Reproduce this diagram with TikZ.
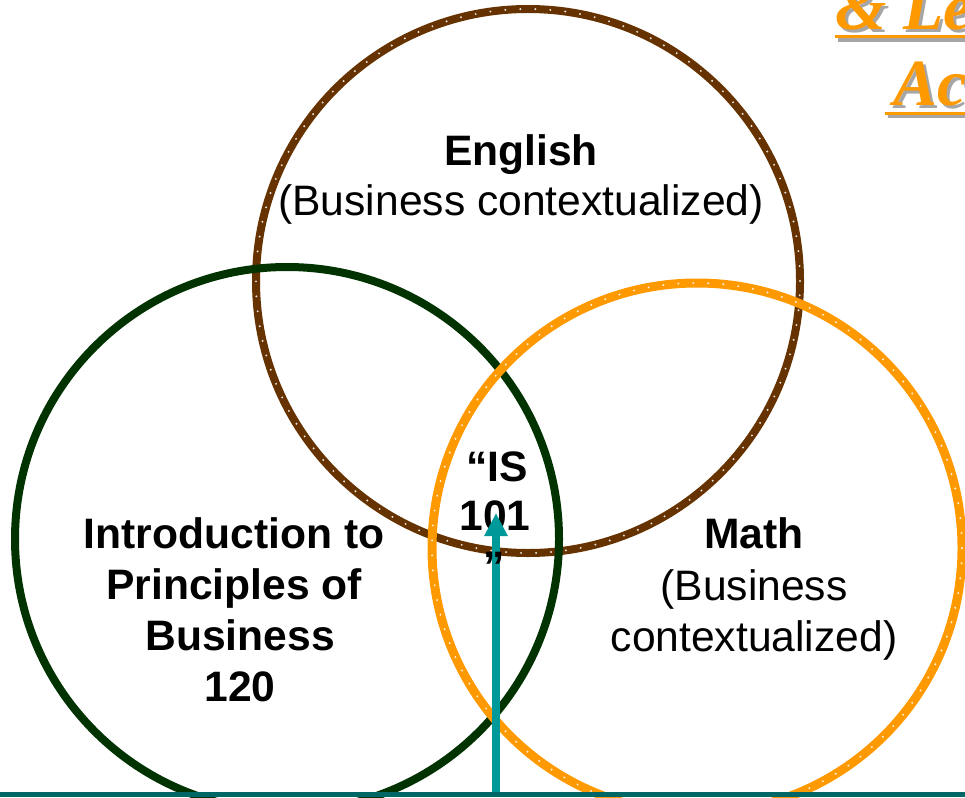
\documentclass[tikz,border=0pt]{standalone}
\usepackage{fontspec}
\setmainfont{Liberation Sans}
\newfontfamily\titlefont{Liberation Serif}
\usetikzlibrary{arrows.meta}
\definecolor{ringbrown}{HTML}{663300}
\definecolor{ringgreen}{HTML}{003300}
\definecolor{ringorange}{HTML}{FF9900}
\definecolor{arrowteal}{HTML}{009999}
\definecolor{baseteal}{HTML}{006666}
\definecolor{shadowgray}{HTML}{A6A6A6}
\begin{document}
\begin{tikzpicture}[x=1pt,y=-1pt,
  ring/.style={line width=8pt},
  ringdots/.style={white, line width=2.2pt, line cap=round, dash pattern=on 0pt off 15pt, opacity=0.85},
  lbl/.style={font=\fontsize{42.6}{51}\selectfont, anchor=base, inner sep=0pt},
  lblb/.style={font=\fontsize{42.6}{51}\selectfont\bfseries, anchor=base, inner sep=0pt},
  titletext/.style={font=\titlefont\fontsize{66}{70}\selectfont\bfseries\itshape, anchor=base west, inner sep=0pt}]
\useasboundingbox (0,0) rectangle (965,797);
\clip (0,0) rectangle (965,797);
\fill[white] (0,0) rectangle (965,797);

% title (cut off at the right edge)
\node[titletext, shadowgray] (t1s) at (838,33) {\& Le};
\node[titletext, ringorange] (t1) at (835,30) {\& Le};
\fill[shadowgray] (838,38.5) rectangle (968,42);
\fill[ringorange] (835,35) rectangle (965,38.5);
\node[titletext, shadowgray] (t2s) at (896,109) {Ac};
\node[titletext, ringorange] (t2) at (893,106) {Ac};
\fill[shadowgray] (888,115) rectangle (968,118);
\fill[ringorange] (885,112) rectangle (965,115);

% rings
\draw[ring, ringbrown] (528,281) circle[radius=272pt];
\draw[ringdots] (528,281) circle[radius=272pt];
\draw[ring, ringgreen] (287,539) circle[radius=272pt];
\draw[ring, ringorange, line width=9pt] (697,548) circle[radius=265pt];
\draw[ringdots] (697,548) circle[radius=265pt];

% labels
\node[lblb] (eng) at (521,165) {English};
\node[lbl] (engsub) at (521,215) {(Business contextualized)};

\node[lblb] (intro1) at (240,548) {Introduction to\phantom{ }};
\node[lblb] (intro2) at (240,599) {Principles of\phantom{ }};
\node[lblb] (intro3) at (240,650) {Business};
\node[lblb] (intro4) at (240,701) {120};

\node[lblb] (math1) at (754,548) {Math};
\node[lbl] (math2) at (754,600) {(Business};
\node[lbl] (math3) at (754,651) {contextualized)};

\node[lblb] (is1) at (497,481) {“IS};
\node[lblb] (is2) at (495,530) {101};

% arrow and base line
\fill[baseteal] (0,792) rectangle (965,797);
\coordinate (arrowfoot) at (496,792);
\coordinate (arrowtip) at (496,513);
\draw[arrowteal, line width=8pt, -{Triangle[length=23pt,width=22pt]}] (arrowfoot) -- (arrowtip);

\node[lblb] (is3) at (494,581) {”};
\end{tikzpicture}
\end{document}
